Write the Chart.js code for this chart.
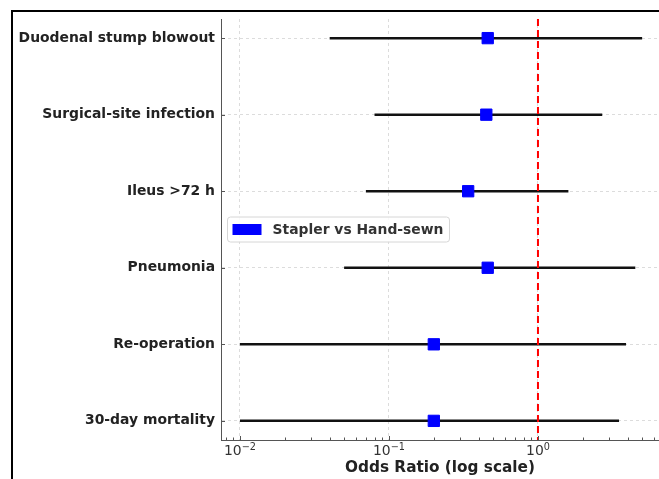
<!DOCTYPE html>
<html>
<head>
<meta charset="utf-8">
<script src="https://cdn.jsdelivr.net/npm/chart.js@4.4.1/dist/chart.umd.min.js"></script>
<style>
  html, body { margin: 0; padding: 0; background: #fff; overflow: hidden; }
  canvas { display: block; }
</style>
</head>
<body>
<canvas id="forestChart" width="659" height="479"></canvas>
<script>
// outcomes, top to bottom
const outcomes = ['Duodenal stump blowout', 'Surgical-site infection', 'Ileus >72 h', 'Pneumonia', 'Re-operation', '30-day mortality'];
const oddsRatios = [0.46, 0.45, 0.34, 0.46, 0.2, 0.2];
const ciLower = [0.04, 0.08, 0.07, 0.05, 0.01, 0.01];
const ciUpper = [5.0, 2.7, 1.6, 4.5, 3.9, 3.5];
const majorTicks = [0.01, 0.1, 1];
const tickExponents = ['\u22122', '\u22121', '0'];
const nullValue = 1;
const seriesLabel = 'Stapler vs Hand-sewn';
const xMin = 0.00746, xMax = 6.49;
const yMin = -0.25, yMax = 5.25;

const FONT = '"DejaVu Sans", sans-serif';
Chart.defaults.font.family = FONT;

const ciSets = outcomes.map((name, i) => ({
    label: name + ' CI',
    data: [{ x: ciLower[i], y: i }, { x: ciUpper[i], y: i }],
    showLine: true,
    borderColor: '#111',
    borderWidth: 2.5,
    pointRadius: 0,
    order: 2
}));

// figure frame (cropped at right/bottom)
const frame = {
    id: 'frame',
    beforeDraw(chart) {
        const { ctx, width, height } = chart;
        ctx.save();
        ctx.fillStyle = '#000';
        ctx.fillRect(11, 10, width - 11, 2);
        ctx.fillRect(11, 10, 2, height - 10);
        ctx.restore();
    }
};

// inward tick marks, 10^n labels, legend box
const extras = {
    id: 'extras',
    afterDraw(chart) {
        const { ctx, chartArea: a, scales: { x, y } } = chart;
        ctx.save();
        ctx.strokeStyle = '#555';
        ctx.lineWidth = 1;
        ctx.beginPath();
        y.ticks.forEach(t => {
            const py = Math.round(y.getPixelForValue(t.value)) + 0.5;
            ctx.moveTo(a.left, py);
            ctx.lineTo(a.left + 4, py);
        });
        for (let e = -3; e <= 1; e++) {
            for (let m = 1; m <= 9; m++) {
                const v = m * Math.pow(10, e);
                if (v < x.min || v > x.max) continue;
                const px = Math.round(x.getPixelForValue(v)) + 0.5;
                ctx.moveTo(px, a.bottom);
                ctx.lineTo(px, a.bottom - (m === 1 ? 4 : 2.5));
            }
        }
        ctx.stroke();

        // tick labels 10^n
        ctx.fillStyle = '#333';
        ctx.textBaseline = 'alphabetic';
        ctx.textAlign = 'left';
        majorTicks.forEach((v, i) => {
            const px = x.getPixelForValue(v);
            ctx.font = '13.9px ' + FONT;
            const wb = ctx.measureText('10').width;
            ctx.font = '9.7px ' + FONT;
            const we = ctx.measureText(tickExponents[i]).width;
            const x0 = px - (wb + we) / 2;
            ctx.font = '13.9px ' + FONT;
            ctx.fillText('10', x0, a.bottom + 15);
            ctx.font = '9.7px ' + FONT;
            ctx.fillText(tickExponents[i], x0 + wb, a.bottom + 10);
        });

        // legend
        ctx.font = 'bold 13.9px ' + FONT;
        const tw = ctx.measureText(seriesLabel).width;
        const bh = 25;
        const bx = a.left + 6.5;
        const by = (a.top + a.bottom) / 2 - bh / 2;
        const bw = 45 + tw + 6;
        ctx.beginPath();
        ctx.roundRect(bx, by, bw, bh, 3);
        ctx.fillStyle = 'rgba(255,255,255,0.85)';
        ctx.fill();
        ctx.strokeStyle = '#d6d6d6';
        ctx.stroke();
        ctx.fillStyle = '#0000ff';
        ctx.fillRect(bx + 5, by + bh / 2 - 5.5, 29, 11);
        ctx.fillStyle = '#333';
        ctx.textBaseline = 'middle';
        ctx.fillText(seriesLabel, bx + 45, by + bh / 2 + 0.5);
        ctx.restore();
    }
};

new Chart(document.getElementById('forestChart'), {
    type: 'scatter',
    data: {
        datasets: [
            {
                label: seriesLabel,
                data: outcomes.map((_, i) => ({ x: oddsRatios[i], y: i })),
                pointStyle: 'rect',
                pointRadius: 8,
                backgroundColor: '#0000ff',
                borderColor: '#0000ff',
                borderWidth: 1,
                order: 0
            },
            {
                label: 'No effect',
                data: [{ x: nullValue, y: yMin }, { x: nullValue, y: yMax }],
                showLine: true,
                borderColor: '#ff0000',
                borderWidth: 2,
                borderDash: [7, 4],
                pointRadius: 0,
                order: 1
            },
            ...ciSets
        ]
    },
    options: {
        responsive: false,
        animation: false,
        events: [],
        layout: { autoPadding: false, padding: { top: 19, right: 0, left: 0, bottom: 0 } },
        plugins: { legend: { display: false }, tooltip: { enabled: false } },
        scales: {
            x: {
                type: 'logarithmic',
                min: xMin,
                max: xMax,
                afterBuildTicks: s => { s.ticks = majorTicks.map(v => ({ value: v })); },
                afterFit: s => { s.height = 39; },
                ticks: { display: false },
                grid: { color: '#d4d4d4', lineWidth: 0.8, drawTicks: false },
                border: { color: '#555', width: 1, dash: [3, 3] },
                title: {
                    display: true,
                    text: 'Odds Ratio (log scale)',
                    color: '#222',
                    font: { size: 15.3, weight: 'bold' },
                    padding: { top: 0, bottom: 2 }
                }
            },
            y: {
                type: 'linear',
                reverse: true,
                min: yMin,
                max: yMax,
                afterBuildTicks: s => { s.ticks = outcomes.map((_, i) => ({ value: i })); },
                afterFit: s => { s.width = 221; },
                ticks: {
                    autoSkip: false,
                    padding: 6,
                    color: '#222',
                    font: { size: 13.9, weight: 'bold' },
                    callback: v => outcomes[v]
                },
                grid: { color: '#d4d4d4', lineWidth: 0.8, drawTicks: false },
                border: { color: '#555', width: 1, dash: [3, 3] }
            }
        }
    },
    plugins: [frame, extras]
});
</script>
</body>
</html>
